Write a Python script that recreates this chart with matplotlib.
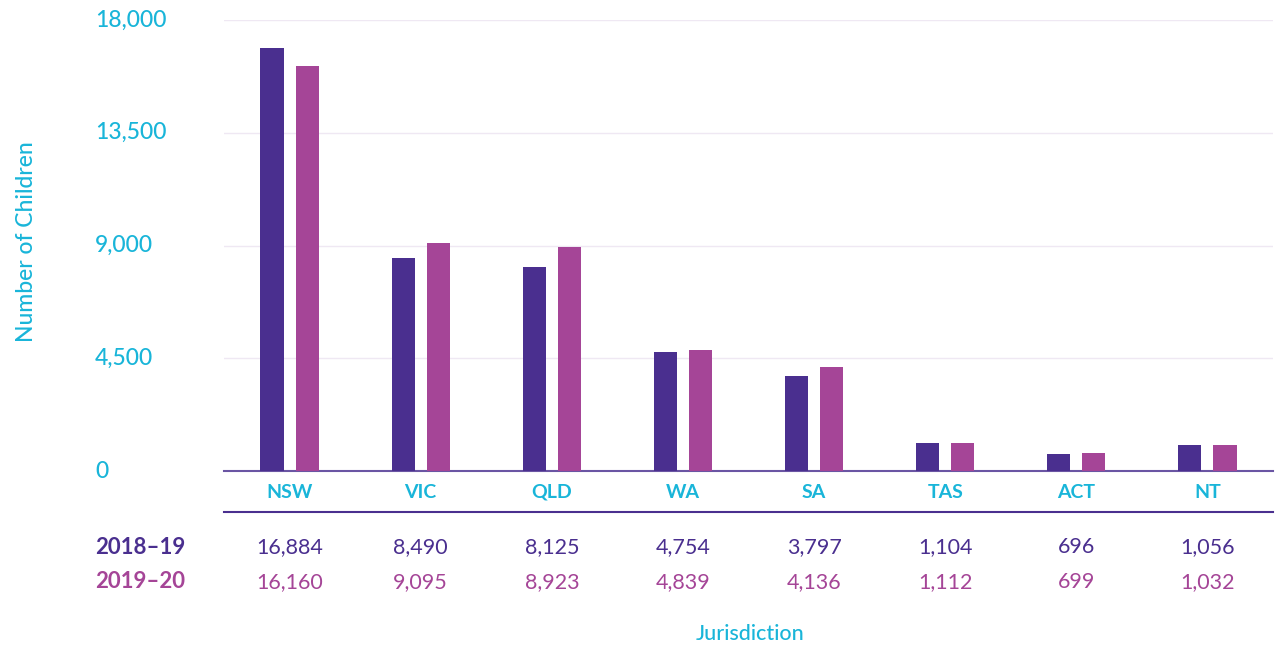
import numpy as np
import matplotlib.pyplot as plt
import matplotlib.transforms as mtransforms

plt.rcParams['font.family'] = ['Lato', 'DejaVu Sans']

jurisdictions = ['NSW', 'VIC', 'QLD', 'WA', 'SA', 'TAS', 'ACT', 'NT']
years = ['2018\u201319', '2019\u201320']
kids_1819 = [16884, 8490, 8125, 4754, 3797, 1104, 696, 1056]
kids_1920 = [16160, 9095, 8923, 4839, 4136, 1112, 699, 1032]
yticks = [0, 4500, 9000, 13500, 18000]

purple = '#4a2f8f'
magenta = '#a54597'
cyan = '#19b5d9'

fig = plt.figure(figsize=(12.81, 6.45), dpi=100)
ax = fig.add_axes([224/1281, 174/645, 1049/1281, 451/645])

x = np.arange(len(jurisdictions))
w = 0.176
ax.bar(x - 0.134, kids_1819, w, color=purple, zorder=3)
ax.bar(x + 0.134, kids_1920, w, color=magenta, zorder=3)

ax.set_xlim(-0.5, len(jurisdictions) - 0.5)
ax.set_ylim(0, 18000)
ax.set_yticks(yticks)
ax.yaxis.grid(True, color='#efe8f3', lw=1, zorder=0)
ax.tick_params(left=False, bottom=False, labelleft=False, labelbottom=False)
for s in ['top', 'right', 'left']:
    ax.spines[s].set_visible(False)
ax.spines['bottom'].set_color('#6a55a3')
ax.spines['bottom'].set_linewidth(1.5)

# y tick labels, left aligned
trans = mtransforms.blended_transform_factory(fig.transFigure, ax.transData)
for t in yticks:
    ax.text(95/1281, t, f'{t:,}', transform=trans, ha='left', va='center',
            color=cyan, fontsize=16.5, fontweight='medium', clip_on=False)

fig.text(27/1281, 1 - 242/645, 'Number of Children', rotation=90,
         ha='center', va='center', color=cyan, fontsize=16.5,
         fontweight='medium')

# category labels and table
xt = mtransforms.blended_transform_factory(ax.transData, fig.transFigure)
for i, j in enumerate(jurisdictions):
    ax.text(i, 1 - 492/645, j, transform=xt, ha='center', va='center',
            color=cyan, fontsize=14, fontweight='bold')
    ax.text(i, 1 - 547/645, f'{kids_1819[i]:,}', transform=xt, ha='center',
            va='center', color=purple, fontsize=15.5)
    ax.text(i, 1 - 582/645, f'{kids_1920[i]:,}', transform=xt, ha='center',
            va='center', color=magenta, fontsize=15.5)

ax.plot([-0.5, len(jurisdictions) - 0.5], [1 - 512/645] * 2, transform=xt,
        color='#4a2f8f', lw=1.5, clip_on=False)

fig.text(185/1281, 1 - 547/645, years[0], ha='right', va='center',
         color=purple, fontsize=16, fontweight='bold')
fig.text(185/1281, 1 - 582/645, years[1], ha='right', va='center',
         color=magenta, fontsize=16, fontweight='bold')

fig.text(750/1281, 1 - 634/645, 'Jurisdiction', ha='center', va='center',
         color=cyan, fontsize=15.5, fontweight='medium')

fig.savefig('out.png', dpi=100)
